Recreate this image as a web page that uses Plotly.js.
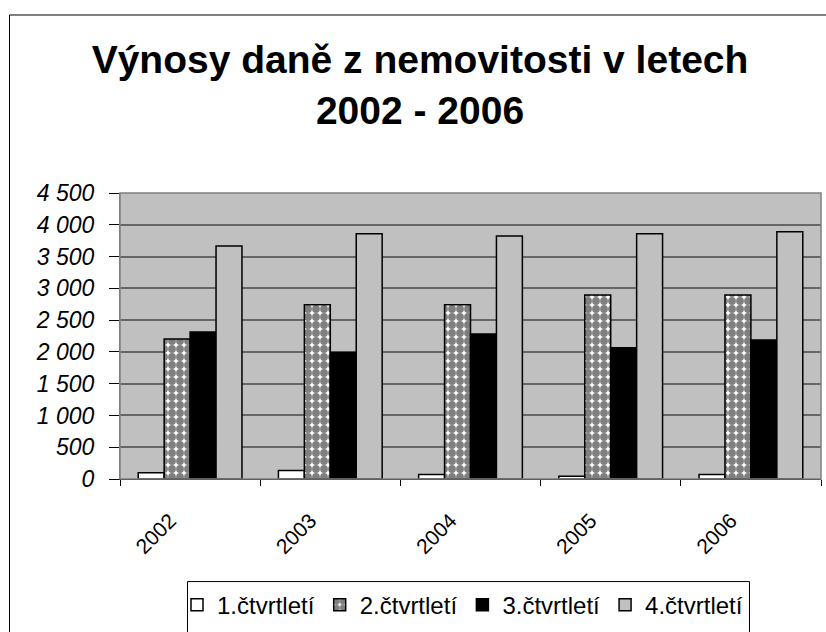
<!DOCTYPE html>
<html>
<head>
<meta charset="utf-8">
<script src="https://cdn.plot.ly/plotly-3.0.1.min.js"></script>
<style>html,body{margin:0;padding:0;background:#fff;} #chart{width:826px;height:632px;}</style>
</head>
<body>
<div id="chart"></div>
<script>
const years = ["2002", "2003", "2004", "2005", "2006"];
const seriesNames = ["1.čtvrtletí", "2.čtvrtletí", "3.čtvrtletí", "4.čtvrtletí"];
const q1 = [100, 135, 72, 45, 72];
const q2 = [2204, 2742, 2742, 2897, 2897];
const q3 = [2312, 1991, 2281, 2064, 2188];
const q4 = [3667, 3859, 3823, 3859, 3890];
const yTicks = [0, 500, 1000, 1500, 2000, 2500, 3000, 3500, 4000, 4500];
const titleText = "Výnosy daně z nemovitosti v letech<br>2002 - 2006";

const W = 826, H = 632;
const mL = 120, mR = 5, mT = 193, mB = 149;
const pw = W - mL - mR, ph = H - mT - mB;
const px = x => (x - mL) / pw;
const py = y => (H - mB - y) / ph;

const outline = {color: "#000", width: 1.5};
const traces = [
  {type: "bar", name: seriesNames[0], x: years, y: q1,
   marker: {color: "#ffffff", line: outline}},
  {type: "bar", name: seriesNames[1], x: years, y: q2,
   marker: {color: "#ffffff", line: outline,
            pattern: {shape: ".", fgcolor: "#000", bgcolor: "#ffffff", size: 8, solidity: 0.75, fillmode: "overlay"}}},
  {type: "bar", name: seriesNames[2], x: years, y: q3,
   marker: {color: "#000000", line: outline}},
  {type: "bar", name: seriesNames[3], x: years, y: q4,
   marker: {color: "#c0c0c0", line: outline}}
];

const layout = {
  width: W, height: H,
  margin: {l: mL, r: mR, t: mT, b: mB, pad: 0},
  paper_bgcolor: "#ffffff",
  plot_bgcolor: "#c0c0c0",
  separators: ", ",
  font: {family: "Liberation Sans, Arial, sans-serif", color: "#000"},
  title: {
    text: titleText,
    font: {family: "Liberation Sans, Arial, sans-serif", size: 39, weight: "bold", color: "#000"},
    x: 420 / W, xanchor: "center", xref: "container",
    y: 1 - 73 / H, yanchor: "top", yref: "container"
  },
  barmode: "group",
  bargap: 0.26,
  bargroupgap: 0,
  showlegend: true,
  legend: {
    orientation: "h",
    x: px(177), xanchor: "left",
    y: py(588), yanchor: "top",
    font: {size: 24, color: "#000"},
    itemwidth: 30,
    borderwidth: 0,
    bgcolor: "rgba(0,0,0,0)",
    traceorder: "normal"
  },
  xaxis: {
    type: "category",
    tickson: "boundaries",
    ticks: "outside", ticklen: 6, tickcolor: "#000", tickwidth: 1,
    showline: true, linecolor: "#000", linewidth: 1,
    showgrid: false, zeroline: false,
    tickangle: -45,
    ticklabelshift: -20,
    ticklabelstandoff: 20,
    tickfont: {size: 21, color: "#000"},
    fixedrange: true
  },
  yaxis: {
    range: [0, 4500],
    tickvals: yTicks,
    tickformat: ",d",
    ticks: "outside", ticklen: 10, tickcolor: "#000", tickwidth: 1,
    ticklabelstandoff: 10,
    showline: true, linecolor: "#808080", linewidth: 1,
    showgrid: true, gridcolor: "#666666", gridwidth: 2,
    zeroline: false,
    tickfont: {size: 23, style: "italic", color: "#000"},
    fixedrange: true
  },
  shapes: [
    {type: "rect", xref: "paper", yref: "paper", x0: 0, x1: 1, y0: 0, y1: 1,
     line: {color: "#808080", width: 1.5}, fillcolor: "rgba(0,0,0,0)", layer: "above"},
    {type: "rect", xref: "paper", yref: "paper", x0: px(9.5), x1: px(840), y0: py(12.5), y1: py(660),
     line: {color: "#000", width: 1}, fillcolor: "rgba(0,0,0,0)"},
    {type: "rect", xref: "paper", yref: "paper", x0: px(187.5), x1: px(749.5), y0: py(587), y1: py(660),
     line: {color: "#000", width: 1}, fillcolor: "rgba(0,0,0,0)"}
  ]
};

Plotly.newPlot("chart", traces, layout, {displayModeBar: false, staticPlot: true});
</script>
</body>
</html>
